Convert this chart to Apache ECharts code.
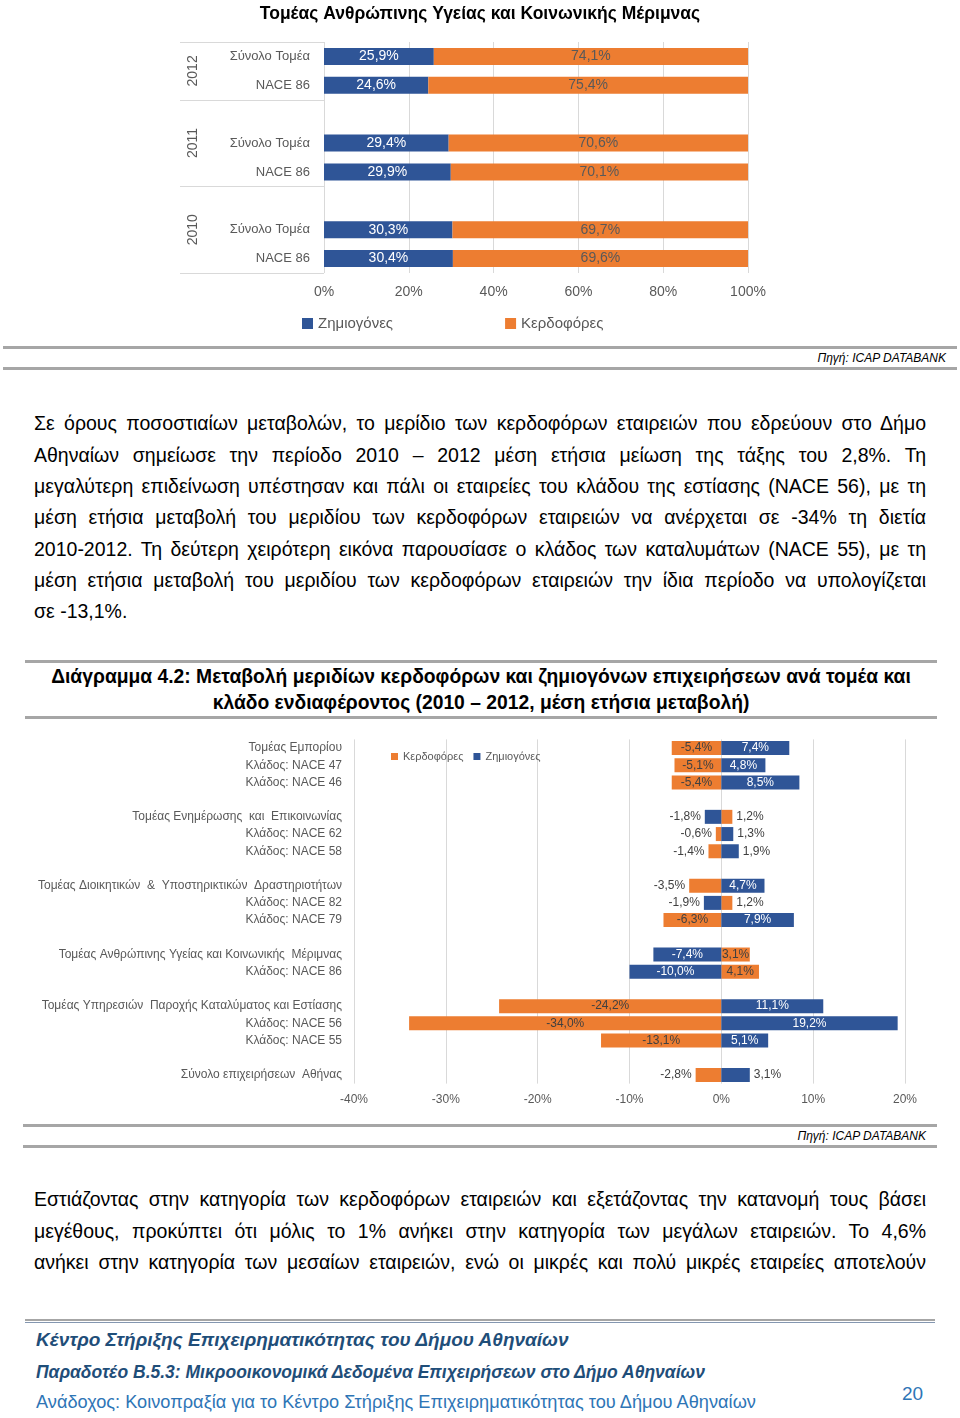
<!DOCTYPE html>
<html>
<head>
<meta charset="utf-8">
<script src="https://cdn.jsdelivr.net/npm/echarts@6/dist/echarts.min.js"></script>
<style>
  html, body { margin:0; padding:0; background:#fff; }
  body { width:960px; height:1418px; position:relative; overflow:hidden; font-family:"Liberation Sans", Arial, sans-serif; color:#000; }
  .abs { position:absolute; }
  .rule { position:absolute; height:3px; background:#A6A6A6; }
  .src { position:absolute; font-style:italic; font-size:12px; color:#000; white-space:nowrap; }
  .para { position:absolute; left:34px; width:892px; font-size:19.5px; }
  .para div { height:31.3px; line-height:31.3px; white-space:nowrap; text-align:justify; text-align-last:justify; }
  .para div.last { text-align-last:left; }
  .head { position:absolute; left:25px; width:912px; text-align:center; font-weight:bold; font-size:19.3px; line-height:26px; white-space:nowrap; }
  .foot { position:absolute; left:36px; white-space:nowrap; color:#1F4E79; }
</style>
</head>
<body>
<div id="c1" class="abs" style="left:0;top:0;width:960px;height:340px"></div>

<div class="rule" style="left:3px;width:954px;top:346px"></div>
<div class="src" style="right:14px;top:351px">Πηγή: ICAP DATABANK</div>
<div class="rule" style="left:3px;width:954px;top:367px"></div>

<div class="para" style="top:408.4px">
  <div>Σε όρους ποσοστιαίων μεταβολών, το μερίδιο των κερδοφόρων εταιρειών που εδρεύουν στο Δήμο</div>
  <div>Αθηναίων σημείωσε την περίοδο 2010 – 2012 μέση ετήσια μείωση της τάξης του 2,8%. Τη</div>
  <div>μεγαλύτερη επιδείνωση υπέστησαν και πάλι οι εταιρείες του κλάδου της εστίασης (NACE 56), με τη</div>
  <div>μέση ετήσια μεταβολή του μεριδίου των κερδοφόρων εταιρειών να ανέρχεται σε -34% τη διετία</div>
  <div>2010-2012. Τη δεύτερη χειρότερη εικόνα παρουσίασε ο κλάδος των καταλυμάτων (NACE 55), με τη</div>
  <div>μέση ετήσια μεταβολή του μεριδίου των κερδοφόρων εταιρειών την ίδια περίοδο να υπολογίζεται</div>
  <div class="last">σε -13,1%.</div>
</div>

<div class="rule" style="left:25px;width:912px;top:660px"></div>
<div class="head" style="top:664px">Διάγραμμα 4.2: Μεταβολή μεριδίων κερδοφόρων και ζημιογόνων επιχειρήσεων ανά τομέα και<br>κλάδο ενδιαφέροντος (2010 – 2012, μέση ετήσια μεταβολή)</div>
<div class="rule" style="left:25px;width:912px;top:716px"></div>

<div id="c2" class="abs" style="left:0;top:730px;width:960px;height:385px"></div>

<div class="rule" style="left:23px;width:914px;top:1124px"></div>
<div class="src" style="right:34px;top:1129px">Πηγή: ICAP DATABANK</div>
<div class="rule" style="left:23px;width:914px;top:1145px"></div>

<div class="para" style="top:1184.4px">
  <div>Εστιάζοντας στην κατηγορία των κερδοφόρων εταιρειών και εξετάζοντας την κατανομή τους βάσει</div>
  <div>μεγέθους, προκύπτει ότι μόλις το 1% ανήκει στην κατηγορία των μεγάλων εταιρειών. Το 4,6%</div>
  <div>ανήκει στην κατηγορία των μεσαίων εταιρειών, ενώ οι μικρές και πολύ μικρές εταιρείες αποτελούν</div>
</div>

<div class="abs" style="left:25px;width:910px;top:1319px;height:2px;background:#A6A6A6"></div>
<div class="abs" style="left:25px;width:910px;top:1322px;height:1px;background:#8497B0"></div>
<div class="foot" style="top:1329px;font-size:19px;font-weight:bold;font-style:italic;">Κέντρο Στήριξης Επιχειρηματικότητας του Δήμου Αθηναίων</div>
<div class="foot" style="top:1362px;font-size:17.5px;font-weight:bold;font-style:italic;">Παραδοτέο B.5.3: Μικροοικονομικά Δεδομένα Επιχειρήσεων στο Δήμο Αθηναίων</div>
<div class="foot" style="top:1392px;font-size:18.2px;color:#2E75B6;">Ανάδοχος: Κοινοπραξία για το Κέντρο Στήριξης Επιχειρηματικότητας του Δήμου Αθηναίων</div>
<div class="abs" style="left:902px;top:1383px;font-size:19px;color:#2E75B6;">20</div>

<script>
// ---------- Chart 1 data ----------
const title1 = 'Τομέας Ανθρώπινης Υγείας και Κοινωνικής Μέριμνας';
const cats1 = ['Σύνολο Τομέα', 'NACE 86', '', 'Σύνολο Τομέα', 'NACE 86', '', 'Σύνολο Τομέα', 'NACE 86'];
const years1 = ['2012', '2011', '2010'];
const zhmiogones1 = [25.9, 24.6, null, 29.4, 29.9, null, 30.3, 30.4];
const kerdofores1 = [74.1, 75.4, null, 70.6, 70.1, null, 69.7, 69.6];
const xTicks1 = [0, 20, 40, 60, 80, 100];

// ---------- Chart 2 data ----------
const cats2 = [
  'Τομέας Εμπορίου', 'Κλάδος: NACE 47', 'Κλάδος: NACE 46', '',
  'Τομέας Ενημέρωσης  και  Επικοινωνίας', 'Κλάδος: NACE 62', 'Κλάδος: NACE 58', '',
  'Τομέας Διοικητικών  &  Υποστηρικτικών  Δραστηριοτήτων', 'Κλάδος: NACE 82', 'Κλάδος: NACE 79', '',
  'Τομέας Ανθρώπινης Υγείας και Κοινωνικής  Μέριμνας', 'Κλάδος: NACE 86', '',
  'Τομέας Υπηρεσιών  Παροχής Καταλύματος και Εστίασης', 'Κλάδος: NACE 56', 'Κλάδος: NACE 55', '',
  'Σύνολο επιχειρήσεων  Αθήνας'
];
const kerdofores2 = [-5.4, -5.1, -5.4, null, 1.2, -0.6, -1.4, null, -3.5, 1.2, -6.3, null, 3.1, 4.1, null, -24.2, -34.0, -13.1, null, -2.8];
const zhmiogones2 = [7.4, 4.8, 8.5, null, -1.8, 1.3, 1.9, null, 4.7, -1.9, 7.9, null, -7.4, -10.0, null, 11.1, 19.2, 5.1, null, 3.1];
const xTicks2 = [-40, -30, -20, -10, 0, 10, 20];

// ---------- styling ----------
const BLUE = '#2F5597', ORANGE = '#ED7D31', GRAY = '#595959', GRID = '#D9D9D9';
const FONT = '"Liberation Sans", Arial, sans-serif';
const fmt = v => (v == null ? '' : v.toFixed(1).replace('.', ',') + '%');

// label placement (outside the bar) for chart 2, by category index
const OUT_K = [4, 5, 6, 8, 9, 19];
const OUT_Z = [4, 5, 6, 9, 19];

// group boundaries (in category units) derived from the blank categories
const bounds1 = [0];
cats1.forEach((c, i) => { if (c === '') bounds1.push(i); });
bounds1.push(cats1.length);
const mids1 = years1.map((y, i) => (bounds1[i] + bounds1[i + 1]) / 2);

const chart1 = echarts.init(document.getElementById('c1'));
chart1.setOption({
  animation: false,
  textStyle: { fontFamily: FONT },
  title: { text: title1, left: 'center', top: 0, textStyle: { fontFamily: FONT, fontSize: 17.5, fontWeight: 'bold', color: '#000' } },
  legend: {
    left: 297, top: 311, itemWidth: 11, itemHeight: 11, itemGap: 112, icon: 'rect',
    textStyle: { fontFamily: FONT, fontSize: 15, color: GRAY },
    data: ['Ζημιογόνες', 'Κερδοφόρες']
  },
  grid: { left: 324, right: 212, top: 42, bottom: 67, containLabel: false },
  xAxis: {
    type: 'value', min: xTicks1[0], max: xTicks1[xTicks1.length - 1], interval: xTicks1[1] - xTicks1[0],
    axisLabel: { formatter: '{value}%', fontSize: 14, color: GRAY, margin: 12, fontFamily: FONT },
    axisLine: { show: false }, axisTick: { show: false },
    splitLine: { lineStyle: { color: GRID } }
  },
  yAxis: [
    {
      type: 'category', data: cats1, inverse: true,
      axisLabel: { fontSize: 13, color: GRAY, margin: 14, fontFamily: FONT },
      axisLine: { show: false }, axisTick: { show: false }
    },
    {
      type: 'value', position: 'left', inverse: true, min: 0, max: cats1.length,
      axisLine: { show: false }, splitLine: { show: false },
      axisTick: { show: true, customValues: bounds1, length: 144, lineStyle: { color: GRID } },
      axisLabel: {
        customValues: mids1, rotate: 90, margin: 124, fontSize: 14, color: GRAY, fontFamily: FONT,
        formatter: v => { const i = mids1.indexOf(v); return i >= 0 ? years1[i] : ''; }
      }
    }
  ],
  series: [
    {
      name: 'Ζημιογόνες', type: 'bar', stack: 's', barWidth: 17, data: zhmiogones1,
      itemStyle: { color: BLUE },
      label: { show: true, position: 'inside', color: '#fff', fontSize: 14, fontFamily: FONT, formatter: p => fmt(p.value) }
    },
    {
      name: 'Κερδοφόρες', type: 'bar', stack: 's', barWidth: 17, data: kerdofores1,
      itemStyle: { color: ORANGE },
      label: { show: true, position: 'inside', color: GRAY, fontSize: 14, fontFamily: FONT, formatter: p => fmt(p.value) }
    }
  ]
});

function points(vals, outside, insideColor) {
  return vals.map((v, i) => {
    if (v == null) return null;
    const out = outside.indexOf(i) >= 0;
    return {
      value: v,
      label: out ? { position: v < 0 ? 'left' : 'right', color: '#404040', distance: 4 }
                 : { position: 'inside', color: insideColor }
    };
  });
}

const chart2 = echarts.init(document.getElementById('c2'));
chart2.setOption({
  animation: false,
  textStyle: { fontFamily: FONT },
  legend: {
    left: 386, top: 16, itemWidth: 7, itemHeight: 7, itemGap: 10, icon: 'rect',
    textStyle: { fontFamily: FONT, fontSize: 11, color: GRAY },
    data: ['Κερδοφόρες', 'Ζημιογόνες']
  },
  grid: { left: 354, right: 55, top: 9.4, bottom: 31.4, containLabel: false },
  xAxis: {
    type: 'value', min: xTicks2[0], max: xTicks2[xTicks2.length - 1], interval: xTicks2[1] - xTicks2[0],
    axisLabel: { formatter: '{value}%', fontSize: 12, color: GRAY, margin: 10, fontFamily: FONT },
    axisLine: { show: false }, axisTick: { show: false },
    splitLine: { lineStyle: { color: GRID } }
  },
  yAxis: {
    type: 'category', data: cats2, inverse: true,
    axisLabel: { fontSize: 12, color: GRAY, margin: 12, fontFamily: FONT },
    axisLine: { show: false }, axisTick: { show: false }
  },
  series: [
    {
      name: 'Κερδοφόρες', type: 'bar', stack: 't', barWidth: 14, data: points(kerdofores2, OUT_K, '#404040'),
      itemStyle: { color: ORANGE },
      label: { show: true, fontSize: 12, fontFamily: FONT, formatter: p => fmt(p.value) }
    },
    {
      name: 'Ζημιογόνες', type: 'bar', stack: 't', barWidth: 14, data: points(zhmiogones2, OUT_Z, '#fff'),
      itemStyle: { color: BLUE },
      label: { show: true, fontSize: 12, fontFamily: FONT, formatter: p => fmt(p.value) }
    }
  ]
});
</script>
</body>
</html>
